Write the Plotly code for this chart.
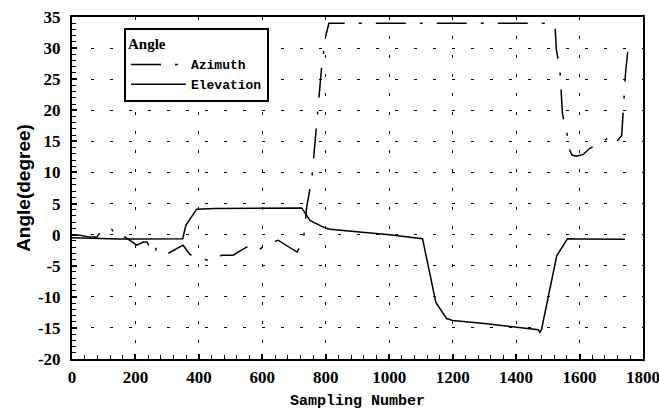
import plotly.graph_objects as go

# Elevation (solid)
elev_x = [0, 50, 100, 150, 200, 250, 300, 349, 359, 375, 393, 450, 500, 600, 700, 724, 750, 797, 813, 900, 1000, 1105, 1147, 1181, 1200, 1300, 1400, 1470, 1475, 1480, 1528, 1562, 1600, 1700, 1743]
elev_y = [-0.5, -0.6, -0.6, -0.7, -0.7, -0.7, -0.7, -0.65, 1.5, 2.8, 4.1, 4.2, 4.2, 4.3, 4.3, 4.3, 2.3, 1.1, 0.86, 0.5, 0.0, -0.65, -10.9, -13.5, -13.8, -14.3, -14.9, -15.3, -15.7, -15.3, -3.4, -0.65, -0.7, -0.75, -0.75]

# Azimuth (dash-dot)
azi_x = [0, 25, 57, 79, 93, 110, 125, 141, 161, 167, 185, 204, 225, 236, 246, 255, 262, 268, 293, 330, 350, 372, 401, 420, 441, 472, 508, 530, 551, 583, 614, 650, 682, 709, 729, 740, 756, 766, 775, 787, 800, 810, 1000, 1200, 1400, 1515, 1523, 1527, 1538, 1546, 1552, 1559, 1565, 1576, 1590, 1612, 1630, 1654, 1675, 1690, 1712, 1733, 1738, 1742, 1745, 1752]
azi_y = [-0.1, -0.1, -0.4, -0.4, 0.7, 1.1, 0.9, -0.4, -0.4, -0.4, -1.0, -1.7, -1.2, -1.2, -2.0, -2.8, -2.0, -2.8, -3.3, -2.3, -1.7, -3.2, -3.6, -4.0, -4.3, -3.3, -3.3, -2.6, -2.0, -2.7, -1.5, -0.9, -2.0, -2.8, -1.2, 4.5, 9.0, 15.0, 20.0, 27.0, 32.0, 34.0, 34.0, 34.0, 34.0, 34.0, 33.2, 29.7, 26.5, 19.5, 18.0, 17.1, 14.1, 12.8, 12.6, 12.9, 13.8, 14.4, 15.0, 15.6, 14.6, 16.0, 20.0, 23.0, 26.0, 29.5]

x_ticks = [0, 200, 400, 600, 800, 1000, 1200, 1400, 1600, 1800]
y_ticks = [-20, -15, -10, -5, 0, 5, 10, 15, 20, 25, 30, 35]

fig = go.Figure()
fig.add_trace(go.Scatter(x=azi_x, y=azi_y, mode="lines", name="Azimuth",
                         line=dict(color="black", width=1.5, dash="30px,14px,3px,14px")))
fig.add_trace(go.Scatter(x=elev_x, y=elev_y, mode="lines", name="Elevation",
                         line=dict(color="black", width=1.5)))

tickfont = dict(family="Liberation Serif", size=17, color="black", weight="bold")
fig.update_layout(
    width=659, height=412,
    margin=dict(l=72, r=16, t=17, b=53, autoexpand=False),
    paper_bgcolor="white", plot_bgcolor="white",
    showlegend=True,
    legend=dict(
        x=0.091, y=0.968, xanchor="left", yanchor="top",
        bgcolor="white", bordercolor="black", borderwidth=2,
        title=dict(text="Angle", font=dict(family="Liberation Serif", size=15, color="black", weight="bold")),
        font=dict(family="Liberation Mono", size=13, color="black", weight="bold"),
        tracegroupgap=0, itemwidth=55,
    ),
    xaxis=dict(
        range=[0, 1800], tickvals=x_ticks, ticktext=[str(v) for v in x_ticks],
        showline=True, linecolor="black", linewidth=2, mirror=True,
        ticks="inside", ticklen=5, tickwidth=1.5, tickcolor="black",
        minor=dict(dtick=40, ticks="inside", ticklen=4, tickwidth=1, tickcolor="black", showgrid=False),
        showgrid=True, gridcolor="black", gridwidth=1.2, griddash="3px,16px",
        zeroline=False, tickfont=tickfont, ticklabelstandoff=2, automargin=False,
        ticklabeloverflow="allow",
        title=dict(text="Sampling Number", font=dict(family="Liberation Mono", size=15, color="black", weight="bold"), standoff=8),
    ),
    yaxis=dict(
        range=[-20, 35], tickvals=y_ticks, ticktext=[str(v) for v in y_ticks],
        showline=True, linecolor="black", linewidth=2, mirror=True,
        ticks="inside", ticklen=5, tickwidth=1.5, tickcolor="black",
        minor=dict(dtick=1, ticks="inside", ticklen=4, tickwidth=1, tickcolor="black", showgrid=False),
        showgrid=True, gridcolor="black", gridwidth=1.2, griddash="3px,16px",
        zeroline=False, tickfont=tickfont, ticklabelstandoff=6, automargin=False,
        ticklabeloverflow="allow",
        title=dict(text="Angle(degree)", font=dict(family="Liberation Sans", size=19, color="black", weight="bold"), standoff=2),
    ),
)

fig.write_html("out.html")
